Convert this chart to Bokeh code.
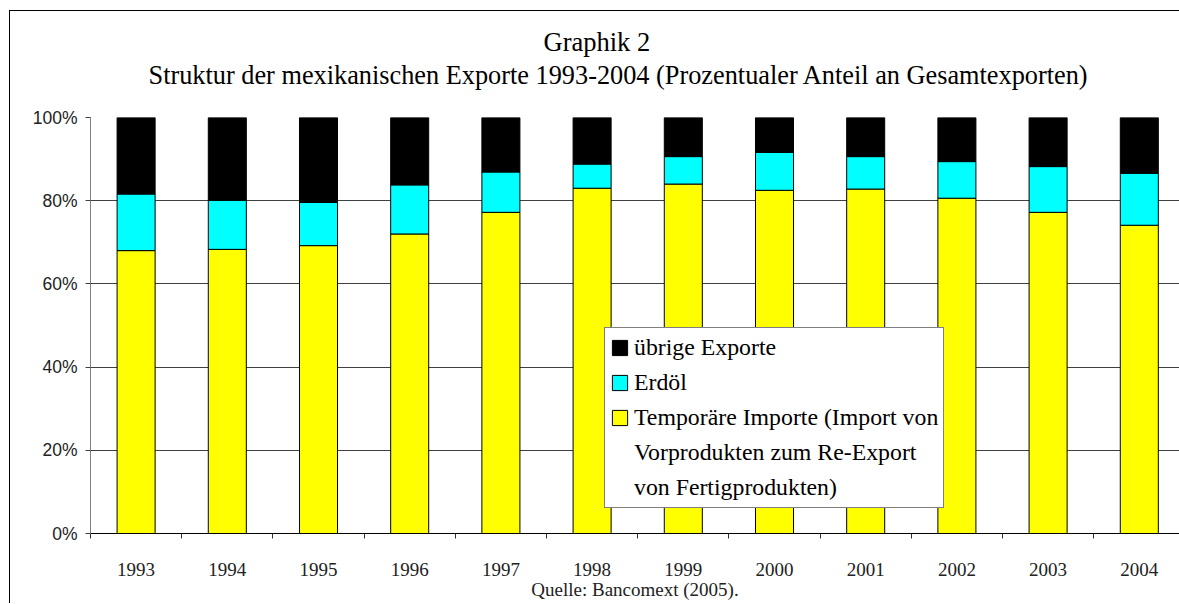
from bokeh.plotting import figure
from bokeh.models import (Range1d, FixedTicker, PrintfTickFormatter, Legend, LegendItem,
                          Title, ColumnDataSource)
from bokeh.embed import file_html
from bokeh.resources import INLINE

years = ["1993", "1994", "1995", "1996", "1997", "1998",
         "1999", "2000", "2001", "2002", "2003", "2004"]
temporaere = [68.0, 68.3, 69.2, 72.0, 77.2, 83.0, 84.0, 82.5, 82.8, 80.6, 77.2, 74.1]
erdoel_top = [81.6, 80.1, 79.6, 83.8, 86.9, 88.8, 90.6, 91.6, 90.6, 89.4, 88.2, 86.6]
erdoel = [round(t - y, 1) for t, y in zip(erdoel_top, temporaere)]
uebrige = [round(100 - t, 1) for t in erdoel_top]
yticks = [0, 20, 40, 60, 80, 100]

legend_lines = ["übrige Exporte", "Erdöl", "Temporäre Importe (Import von",
                "Vorprodukten zum Re-Export", "von Fertigprodukten)"]

W, H = 1179, 603
LEFT, TOP, BOTTOM = 90, 117, 70
cat_px = 91.2
frame_w = W - LEFT
xs = [i + 0.5 for i in range(len(years))]

src = ColumnDataSource(dict(x=xs, temp=temporaere, erd=erdoel, ueb=uebrige))

p = figure(width=W, height=H, output_backend="svg", toolbar_location=None,
           x_range=Range1d(0, frame_w / cat_px), y_range=Range1d(0, 100),
           min_border_left=LEFT, min_border_top=TOP, min_border_bottom=BOTTOM,
           min_border_right=0)
# outer chart border (left and top edges only, the rest is cut off in the original)
p.styles = {"vertical-align": "top",
            "background-color": "white",
            "background-image": "linear-gradient(#000, #000), linear-gradient(#000, #000)",
            "background-size": "1px calc(100% - 10px), calc(100% - 9px) 1px",
            "background-position": "9px 10px, 9px 10px",
            "background-repeat": "no-repeat"}
p.outline_line_color = None
p.background_fill_color = "white"
p.border_fill_alpha = 0

rs = p.vbar_stack(["temp", "erd", "ueb"], x="x", width=0.417, source=src,
                  color=None, fill_color=["#FFFF00", "#00FFFF", "#000000"],
                  line_color="black", line_width=1)
blank = p.vbar(x=[], top=[], width=0.4, fill_alpha=0, line_alpha=0)

# axes
p.yaxis.ticker = FixedTicker(ticks=yticks)
p.yaxis.formatter = PrintfTickFormatter(format="%d%%")
p.yaxis.axis_line_color = "#808080"
p.yaxis.major_tick_line_color = "#404040"
p.yaxis.major_tick_out = 5
p.yaxis.major_tick_in = 0
p.yaxis.minor_tick_line_color = None
p.yaxis.major_label_standoff = 8
p.yaxis.major_label_text_font = "Liberation Sans"
p.yaxis.major_label_text_font_size = "17.5px"
p.yaxis.major_label_text_color = "#222222"

p.xaxis.ticker = FixedTicker(ticks=xs, minor_ticks=list(range(len(years) + 1)))
p.xaxis.major_label_overrides = {x: y for x, y in zip(xs, years)}
p.xaxis.major_tick_line_color = None
p.xaxis.major_tick_out = 0
p.xaxis.major_tick_in = 0
p.xaxis.minor_tick_line_color = "#303030"
p.xaxis.minor_tick_out = 5
p.xaxis.minor_tick_in = 0
p.xaxis.axis_line_color = "black"
p.xaxis.major_label_standoff = 24
p.xaxis.major_label_text_font = "Liberation Serif"
p.xaxis.major_label_text_font_size = "19px"
p.xaxis.major_label_text_color = "#222222"
p.xaxis.axis_label = "Quelle: Bancomext (2005)."
p.xaxis.axis_label_standoff = 0
p.xaxis.axis_label_text_font = "Liberation Serif"
p.xaxis.axis_label_text_font_size = "19px"
p.xaxis.axis_label_text_font_style = "normal"
p.xaxis.axis_label_text_color = "#222222"

p.xgrid.grid_line_color = None
p.ygrid.ticker = FixedTicker(ticks=yticks[1:])
p.ygrid.grid_line_color = "#404040"
p.ygrid.grid_line_width = 1

# titles (spacer, subtitle, main title — stacked upward from the frame)
spacer = Title(text="_", text_font_size="1px", text_color="white", standoff=25)
sub = Title(text="Struktur der mexikanischen Exporte 1993-2004 (Prozentualer Anteil an Gesamtexporten)",
            align="left", offset=58, text_font="Liberation Serif", text_font_size="26.3px",
            text_font_style="normal", text_color="black", standoff=0)
main = Title(text="Graphik 2", align="left", offset=453, text_font="Liberation Serif",
             text_font_size="26.5px", text_font_style="normal", text_color="black", standoff=4)
p.add_layout(spacer, "above")
p.add_layout(sub, "above")
p.add_layout(main, "above")

legend = Legend(items=[LegendItem(label=legend_lines[0], renderers=[rs[2]]),
                       LegendItem(label=legend_lines[1], renderers=[rs[1]]),
                       LegendItem(label=legend_lines[2], renderers=[rs[0]]),
                       LegendItem(label=legend_lines[3], renderers=[blank]),
                       LegendItem(label=legend_lines[4], renderers=[blank])],
                location=(514, 25))
legend.border_line_color = "black"
legend.border_line_width = 1
legend.background_fill_color = "white"
legend.background_fill_alpha = 1
legend.label_text_font = "Liberation Serif"
legend.label_text_font_size = "23.8px"
legend.label_text_color = "black"
legend.glyph_width = 19
legend.glyph_height = 19
legend.label_standoff = 5
legend.padding = 5
legend.spacing = 6
legend.margin = 0
legend.label_height = 29
p.add_layout(legend, "center")

open("out.html", "w").write(file_html(p, INLINE))
